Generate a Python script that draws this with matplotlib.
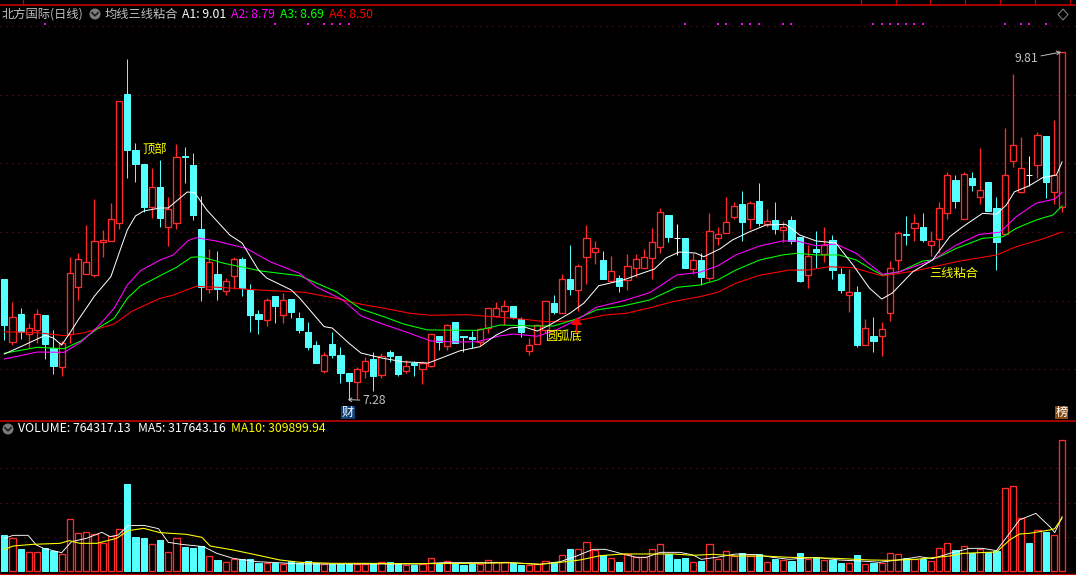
import matplotlib
matplotlib.use("Agg")
import matplotlib.pyplot as plt
from matplotlib.patches import Rectangle, Circle, Polygon

plt.rcParams['font.family'] = ['Noto Sans CJK SC', 'DejaVu Sans']

# ---------------- data ----------------
opens = [8.158,7.701,7.903,7.760,7.789,7.896,7.653,7.519,7.757,8.102,
 8.196,8.189,8.429,8.437,8.568,9.502,9.097,8.995,8.680,8.828,
 8.539,8.568,9.056,8.988,8.522,8.087,8.194,8.073,8.182,8.301,
 8.078,7.903,7.862,8.034,7.898,8.012,7.874,7.772,7.677,7.490,
 7.685,7.605,7.474,7.410,7.490,7.578,7.461,7.626,7.597,7.490,
 7.544,7.500,7.527,7.743,7.672,7.845,7.743,7.733,7.697,7.801,
 7.889,7.927,7.961,7.867,7.636,7.687,7.787,7.981,7.913,8.156,
 8.080,8.320,8.357,8.296,8.143,8.165,8.153,8.240,8.240,8.313,
 8.393,8.624,8.456,8.454,8.233,8.296,8.167,8.453,8.491,8.611,
 8.704,8.592,8.726,8.560,8.585,8.517,8.585,8.464,8.189,8.374,
 8.342,8.442,8.194,8.039,8.063,7.675,7.743,7.741,7.913,8.296,
 8.488,8.531,8.536,8.408,8.451,8.641,8.879,8.597,8.893,8.753,
 8.864,8.675,8.483,9.015,8.793,8.913,8.986,9.199,8.793,8.680]
closes = [7.823,7.879,7.772,7.799,7.901,7.685,7.525,7.690,8.199,8.301,
 8.279,8.432,8.442,8.595,9.452,9.099,8.997,8.682,8.825,8.602,
 8.667,9.044,9.048,8.624,8.102,8.279,8.087,8.141,8.301,8.092,
 7.898,7.867,8.003,7.961,8.003,7.918,7.787,7.663,7.546,7.602,
 7.605,7.474,7.415,7.500,7.559,7.454,7.595,7.597,7.466,7.522,
 7.532,7.546,7.755,7.701,7.821,7.694,7.736,7.721,7.796,7.945,
 7.945,7.959,7.881,7.772,7.675,7.821,7.996,7.918,8.156,8.085,
 8.250,8.454,8.381,8.158,8.214,8.107,8.250,8.301,8.316,8.425,
 8.643,8.464,8.456,8.240,8.296,8.175,8.505,8.483,8.571,8.691,
 8.575,8.713,8.568,8.582,8.524,8.534,8.435,8.143,8.323,8.354,
 8.405,8.223,8.078,8.061,7.677,7.799,7.707,7.792,8.236,8.491,
 8.480,8.563,8.442,8.432,8.673,8.913,8.726,8.920,8.842,8.804,
 8.653,8.429,8.913,9.131,8.964,8.913,9.204,8.864,8.915,9.810]
highs = [8.158,7.993,7.947,7.835,7.939,7.896,7.784,7.707,8.318,8.347,
 8.551,8.740,8.515,8.713,9.452,9.757,9.146,8.995,8.966,9.024,
 8.757,9.141,9.119,9.073,8.762,8.376,8.360,8.163,8.318,8.318,
 8.121,7.932,8.020,8.034,8.054,8.012,7.918,7.845,7.707,7.626,
 7.772,7.663,7.474,7.515,7.592,7.626,7.619,7.641,7.597,7.568,
 7.561,7.561,7.755,7.743,7.830,7.845,7.743,7.777,7.801,7.945,
 7.990,8.005,7.961,7.881,7.728,7.830,7.996,8.039,8.194,8.405,
 8.267,8.551,8.435,8.362,8.325,8.187,8.340,8.340,8.376,8.529,
 8.675,8.624,8.558,8.454,8.349,8.347,8.638,8.536,8.755,8.716,
 8.799,8.728,8.857,8.667,8.716,8.582,8.617,8.464,8.405,8.505,
 8.536,8.476,8.238,8.231,8.107,7.867,7.881,7.845,8.289,8.507,
 8.617,8.631,8.638,8.507,8.716,8.937,8.915,8.937,8.937,9.112,
 8.864,8.755,9.257,9.650,9.192,9.053,9.226,9.199,9.315,9.810]
lows = [7.714,7.680,7.721,7.656,7.694,7.578,7.468,7.454,7.694,8.005,
 8.196,8.175,8.318,8.437,8.522,8.895,8.866,8.646,8.602,8.536,
 8.398,8.522,8.857,8.587,7.998,8.056,8.005,8.041,8.087,8.034,
 7.772,7.757,7.818,7.838,7.840,7.874,7.767,7.641,7.546,7.476,
 7.585,7.401,7.280,7.284,7.439,7.345,7.439,7.554,7.452,7.476,
 7.454,7.396,7.519,7.641,7.641,7.694,7.629,7.658,7.672,7.767,
 7.879,7.823,7.867,7.738,7.607,7.687,7.765,7.903,7.913,8.041,
 7.925,8.121,8.267,8.158,8.143,8.063,8.078,8.175,8.240,8.158,
 8.347,8.427,8.333,8.240,8.196,8.114,8.145,8.405,8.491,8.595,
 8.437,8.520,8.546,8.539,8.488,8.429,8.415,8.136,8.092,8.238,
 8.282,8.158,8.056,7.918,7.663,7.675,7.626,7.597,7.852,8.223,
 8.405,8.435,8.427,8.325,8.347,8.595,8.675,8.597,8.799,8.704,
 8.653,8.223,8.483,8.973,8.786,8.835,8.893,8.748,8.704,8.646]
# volume in thousands
volumes = [210.6,191.1,128.7,109.2,109.2,132.6,117,97.5,302.3,220.4,
 226.2,216.5,161.9,206.7,243.8,509,198.9,193.1,156,181.4,
 109.2,191.1,140.4,134.6,144.3,85.8,64.4,50.7,68.3,68.3,
 68.3,46.8,44.9,48.8,39,56.6,44.9,58.5,48.8,39,
 42.9,42.9,42.9,39,42.9,39,50.7,52.7,42.9,33.2,
 37.1,41,74.1,42.9,56.6,42.9,35.1,39,42.9,62.4,
 50.7,50.7,44.9,35.1,33.2,39,56.6,50.7,91.7,128.7,
 126.8,167.7,120.9,93.6,74.1,52.7,99.5,80,80,126.8,
 156,99.5,70.2,76.1,50.7,58.5,156,68.3,115.1,89.7,
 103.4,87.8,97.5,50.7,70.2,62.4,58.5,103.4,72.2,78,
 66.3,64.4,46.8,44.9,93.6,39,48.8,44.9,103.4,97.5,
 74.1,68.3,68.3,56.6,132.6,161.9,122.9,144.3,103.4,130.7,
 113.1,119,483.6,495.3,308.1,163.8,237.9,228.2,208.7,764.317]

a1_i = [0,2,5,6,7,8,9,11,13,14,15,16,17,19,20,22.3,23.2,24.7,27.5,29,31,32,35,36,39,40,42,43.5,46,48.5,51.7,53.7,55.5,58,60,61.7,63.3,65,66.5,69,70.7,72.5,75.5,77.5,79.3,80.7,82.3,84.3,85.3,87.3,88.8,90.9,92.9,95.3,97,99,101.4,103.5,105.5,107,108.3,110.8,113.2,115.3,116.9,119.3,121,122.2,123.2,125,126.6,128.3,129]
a1_v = [7.612,7.665,7.748,7.728,7.677,7.765,7.859,8.034,8.175,8.347,8.515,8.617,8.653,8.675,8.675,8.791,8.788,8.660,8.478,8.420,8.223,8.165,8.078,8.020,7.811,7.801,7.692,7.619,7.583,7.556,7.546,7.592,7.634,7.665,7.750,7.801,7.811,7.779,7.823,7.910,7.983,8.109,8.151,8.194,8.231,8.311,8.354,8.347,8.320,8.378,8.442,8.502,8.551,8.556,8.478,8.435,8.420,8.260,8.092,8.012,8.056,8.211,8.296,8.466,8.539,8.636,8.629,8.697,8.793,8.837,8.895,8.915,9.01]
a2_i = [0,4,7.3,9.4,11.4,13.4,15,16.6,19,20.6,22.4,23.4,25.8,29.5,32.4,36,38,41.3,43.5,45.9,49.1,52,55.2,57.7,60.5,62.1,65,67.3,69.8,72.2,75.4,78.7,82,84.8,87,89.2,92.1,94.9,96.6,99,101.4,103.9,105.9,107.1,109.2,113.2,116.1,118.9,121.4,123.4,125.8,128.1,129]
a2_v = [7.575,7.626,7.624,7.701,7.811,7.945,8.114,8.218,8.296,8.333,8.437,8.459,8.435,8.381,8.284,8.199,8.102,8.005,7.889,7.835,7.770,7.707,7.699,7.701,7.745,7.757,7.741,7.787,7.859,7.952,7.998,8.058,8.187,8.207,8.253,8.333,8.398,8.435,8.435,8.400,8.413,8.345,8.247,8.192,8.211,8.296,8.405,8.483,8.498,8.611,8.709,8.740,8.79]
a3_i = [0,4,7.3,9.4,11.4,13.4,15,16.6,19,21,22.8,24,26.8,31.3,36,40.5,43.5,46.3,48.7,51.6,57.7,60.5,64.6,67,69.8,72.2,75.4,78.7,82,84.8,87,89.2,92.1,94.9,96.6,99,101.8,103.9,105.9,107.1,109.2,112,113.2,116.1,119.3,121.8,123.4,125.8,127.9,129]
a3_v = [7.617,7.661,7.650,7.709,7.799,7.872,8.017,8.107,8.182,8.243,8.316,8.320,8.272,8.216,8.182,8.065,7.939,7.883,7.830,7.787,7.784,7.823,7.816,7.816,7.867,7.932,7.961,8.005,8.097,8.114,8.151,8.223,8.296,8.333,8.345,8.333,8.333,8.296,8.223,8.187,8.211,8.289,8.296,8.381,8.454,8.466,8.527,8.587,8.624,8.69]
a4_i = [0,4,7.3,9.8,13.4,15.6,19,20.6,23.4,26.8,30.9,36.6,40.5,43.5,46.3,49.5,52,56.4,59.7,63,66,69.8,73.3,75.8,79,81.5,84.8,87,89.2,92.1,95.7,98,100.6,103.5,107.1,111.2,116.1,121,123.4,126.6,129]
a4_v = [7.774,7.767,7.745,7.767,7.830,7.925,8.017,8.041,8.105,8.095,8.078,8.061,8.017,7.974,7.945,7.908,7.894,7.898,7.883,7.867,7.847,7.854,7.896,7.908,7.952,7.993,8.029,8.061,8.127,8.185,8.223,8.223,8.247,8.240,8.180,8.218,8.284,8.333,8.393,8.449,8.50]
ma5_i = [0,1.1,2.9,3.9,4.8,7,8.2,10,11.9,12.9,13.9,15.1,17,18.8,20,21.6,24.3,25.9,27.9,30.8,33.2,36.1,43.2,50.3,53.5,56.4,61.7,65.3,67.8,69.8,71.8,73.3,75.9,77.1,78.3,80,82.4,84,85,87.1,89.2,91.7,93.7,95.7,99,101.8,105.1,106.7,109.6,111.6,113.2,115.3,117.7,119.3,121,122.6,123.8,125.8,127.5,128.1,129]
ma5_v = [191,208.7,208.7,152,132.6,107,171.6,191,226.2,200.9,210.6,265.2,267,247.7,167.7,156,142.4,103.4,74.1,54.6,48.8,41,41,41,48.8,48.8,48.8,39,54.6,87.8,126.8,126.8,93.6,80,80,109.2,109.2,93.6,68.3,81.9,99.5,95.6,80,68.3,80,64.4,56.6,50.7,68.3,83.9,72.2,103.4,132.6,132.6,119,220.4,298.4,337.4,259.4,224.3,317.643]
ma10_i = [0,1.1,3.5,6.8,7.9,9.2,11.3,13.7,15.1,17,19,22.2,24.1,25.1,27.9,30.8,33.6,36.1,40.1,43.2,50.3,57.6,61.7,65.3,67.8,70.2,72.7,75.5,81.6,84,86.5,89.2,92.5,95.7,101.4,105.5,108,111.2,115.3,116.9,121,122.6,123.8,125,127.5,128.1,129]
ma10_v = [126.8,146.3,156,161.9,177.5,161.9,161.9,191.1,236,249.6,224.3,214.5,197,146.3,122.9,93.6,64.4,50.7,44.9,44.9,42.9,44.9,48.8,39,50.7,64.4,89.7,99.5,99.5,91.7,97.5,87.8,87.8,80,74.1,64.4,62.4,68.3,87.8,103.4,111.2,181.4,216.5,220.4,239.9,247.7,309.9]
signal_bars = [5,33,37,39,40,41,42,83,87,88,90,91,92,95,96,106,107,108,109,110,111,112,122,124,125,127]
price_ticks = [8.0,8.5,9.0,9.5,10.0,7.5]
volume_ticks = [200,400,600]

title = "北方国际(日线)"
formula = "均线三线粘合"
a_labels = ["A1: 9.01","A2: 8.79","A3: 8.69","A4: 8.50"]
vol_label = "VOLUME: 764317.13"
ma5_label = "MA5: 317643.16"
ma10_label = "MA10: 309899.94"

# ---------------- style ----------------
W, H = 1076, 575
CYAN = '#54FFFF'; RED = '#FF2A2A'; MAG = '#FF00FF'; GRN = '#00FF00'; PRED = '#FF0000'
YEL = '#FFFF00'; GRAY = '#C0C0C0'; GRID = '#8A1010'; FRAME = '#C00000'
PX = 0.72
RW = 0.95
FS = 8.8

fig = plt.figure(figsize=(W/100, H/100), dpi=100, facecolor='black')
def fy(y): return 1-y/H

# price pane covers pixel rows 0..420, volume pane 421..575
ax = fig.add_axes([0, fy(420), 1, 420/H], facecolor='black')
vx = fig.add_axes([0, 0, 1, (H-421)/H], facecolor='black')
X0, DX = 4.3, 8.2
for a in (ax, vx):
    a.set_xlim((0-X0)/DX, (W-X0)/DX)
    a.axis('off')
ax.set_ylim(10.189-0.00728*420, 10.189)
vx.set_ylim(-(575-571)*5.85, (571-421)*5.85)

ax.hlines(price_ticks, *ax.get_xlim(), colors=GRID, lw=PX, linestyles=(0, (1, 5)), zorder=0)
vx.hlines(volume_ticks, *vx.get_xlim(), colors=GRID, lw=PX, linestyles=(0, (1, 5)), zorder=0)

n = len(opens)
BW = 0.78
for i in range(n):
    o, c, h, l = opens[i], closes[i], highs[i], lows[i]
    top, bot = max(o, c), min(o, c)
    col = RED if c > o else ('white' if c == o else CYAN)
    lw = RW if c > o else PX
    ax.vlines(i, top, h, colors=col, lw=lw, zorder=2, snap=True)
    ax.vlines(i, l, bot, colors=col, lw=lw, zorder=2, snap=True)
    if c > o:
        ax.add_patch(Rectangle((i-BW/2, bot), BW, top-bot, fc='black', ec=RED, lw=RW, zorder=2, snap=True))
        vx.add_patch(Rectangle((i-BW/2, 0), BW, volumes[i], fc='black', ec=RED, lw=RW, zorder=2, snap=True))
    else:
        if c == o:
            ax.hlines(o, i-BW/2, i+BW/2, colors=col, lw=PX, zorder=2, snap=True)
        else:
            ax.add_patch(Rectangle((i-BW/2, bot), BW, top-bot, fc=col, ec=col, lw=PX, zorder=2, snap=True))
        vx.add_patch(Rectangle((i-BW/2, 0), BW, volumes[i], fc=CYAN, ec=CYAN, lw=PX, zorder=2, snap=True))

ax.plot(a4_i, a4_v, color=PRED, lw=0.78, zorder=3)
ax.plot(a3_i, a3_v, color=GRN, lw=0.78, zorder=3)
ax.plot(a2_i, a2_v, color=MAG, lw=0.78, zorder=3)
ax.plot(a1_i, a1_v, color='white', lw=0.72, zorder=4)
vx.plot(ma5_i, ma5_v, color='white', lw=0.65, zorder=3)
vx.plot(ma10_i, ma10_v, color=YEL, lw=0.78, zorder=4)

# signal dots just above the 10.0 gridline
ax.scatter(signal_bars, [10.015]*len(signal_bars), s=3.2, marker='s', color=MAG, lw=0, zorder=3)

# annotations tied to the data
ax.text(18.3, 9.097, "顶部", color=YEL, fontsize=FS, ha='center', va='center', zorder=5)
ax.text(68.2, 7.74, "圆弧底", color=YEL, fontsize=FS, ha='center', va='center', zorder=5)
ax.text(115.8, 8.2, "三线粘合", color=YEL, fontsize=FS, ha='center', va='center', zorder=5)
ax.annotate("", xy=(69.8, 7.88), xytext=(69.8, 7.77),
            arrowprops=dict(arrowstyle='-|>,head_width=0.3,head_length=0.4', color=PRED, lw=1.2, shrinkA=0, shrinkB=0), zorder=5)
ax.annotate("7.28", xy=(41.9, 7.28), xytext=(43.7, 7.272), color=GRAY, fontsize=FS, va='center', ha='left',
            arrowprops=dict(arrowstyle='->,head_width=0.15,head_length=0.25', color=GRAY, lw=0.7, shrinkA=0, shrinkB=0), zorder=5)
ax.annotate("9.81", xy=(128.9, 9.81), xytext=(124.65, 9.762), color=GRAY, fontsize=FS, va='center', ha='center',
            arrowprops=dict(arrowstyle='->,head_width=0.15,head_length=0.3', color=GRAY, lw=0.7, shrinkA=0, shrinkB=0), zorder=5)

# overlay for frame and header furniture
ov = fig.add_axes([0, 0, 1, 1], facecolor='none')
ov.set_xlim(0, W); ov.set_ylim(H, 0); ov.axis('off')
ov.plot([0, W], [4.5, 4.5], color=FRAME, lw=1.2)
ov.plot([0, W], [420.5, 420.5], color=FRAME, lw=1.2)
ov.plot([0, W], [573.5, 573.5], color=FRAME, lw=1.0)
for tx in [23, 861, 896, 930, 965, 1000, 1035, 1070]:
    ov.plot([tx, tx], [0, 4], color=FRAME, lw=0.9)

def chevron(x, y):
    ov.add_patch(Circle((x, y), 5.5, fc='#7A7A7A', ec='none'))
    ov.plot([x-3, x, x+3], [y-1.2, y+1.8, y-1.2], color='#1A1A1A', lw=1.2)
chevron(95, 14)
chevron(8, 429)
ov.add_patch(Polygon([(1063, 9), (1068, 14.5), (1063, 20), (1058, 14.5)], fc='none', ec='#8A8A8A', lw=0.7))

def label(x, y, s, c):
    ov.text(x, y, s, color=c, fontsize=FS, ha='left', va='center')
label(2, 14, title, GRAY)
label(105, 14, formula, GRAY)
for tx, s, c in zip([182, 231, 280, 329], a_labels, ['white', MAG, GRN, PRED]):
    label(tx, 14, s, c)
label(18, 429, vol_label, 'white')
label(138, 429, ma5_label, 'white')
label(231, 429, ma10_label, YEL)

ov.add_patch(Rectangle((341, 406), 14, 13, fc='#12427A', ec='none'))
ov.text(348, 412, "财", color='white', fontsize=FS, ha='center', va='center')
ov.add_patch(Rectangle((1055, 406), 13, 13, fc='#8A4A10', ec='none'))
ov.text(1061.5, 412, "榜", color='white', fontsize=FS, ha='center', va='center')

fig.savefig('out.png', dpi=100, facecolor='black')
